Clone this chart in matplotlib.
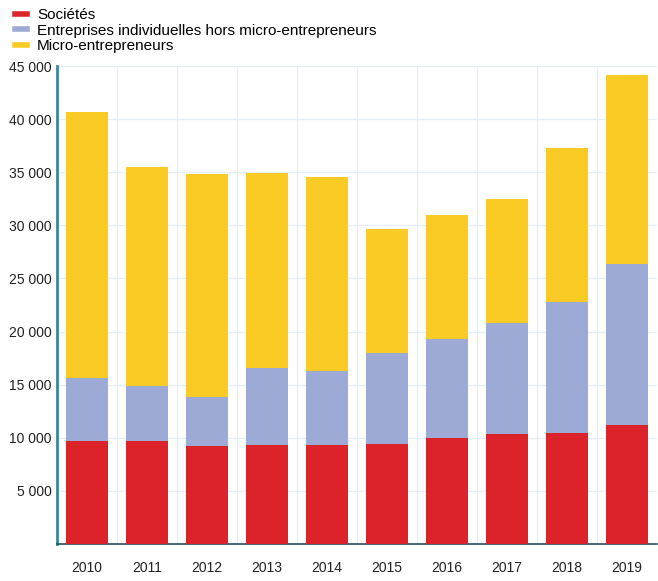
import matplotlib.pyplot as plt
import numpy as np
from matplotlib.lines import Line2D
from matplotlib.ticker import FuncFormatter

plt.rcParams['font.family'] = ['Liberation Sans', 'DejaVu Sans']

# Data
years = ['2010', '2011', '2012', '2013', '2014', '2015', '2016', '2017', '2018', '2019']
societes = [9730, 9730, 9230, 9350, 9320, 9420, 9950, 10360, 10480, 11200]
ei_hors_micro = [5870, 5150, 4640, 7190, 6940, 8540, 9350, 10480, 12280, 15140]
micro = [25050, 20650, 20940, 18360, 18270, 11700, 11680, 11620, 14560, 17790]

labels = ['Sociétés', 'Entreprises individuelles hors micro-entrepreneurs', 'Micro-entrepreneurs']
colors = ['#dc2329', '#9daad6', '#f9cb24']
yticks = [5000, 10000, 15000, 20000, 25000, 30000, 35000, 40000, 45000]

fig = plt.figure(figsize=(6.58, 5.81), dpi=100)
ax = fig.add_axes([57 / 658, 37 / 581, 600 / 658, 478 / 581])

x = np.arange(len(years))
bottom = np.zeros(len(years))
for vals, col in zip([societes, ei_hors_micro, micro], colors):
    ax.bar(x, vals, width=0.7, bottom=bottom, color=col, zorder=3)
    bottom += np.array(vals)

ax.set_xlim(-0.5, len(years) - 0.5)
ax.set_ylim(0, 45000)
ax.set_xticks(x)
ax.set_xticklabels(years)
ax.set_yticks(yticks)
ax.yaxis.set_major_formatter(FuncFormatter(lambda v, p: f'{int(v):,}'.replace(',', ' ')))

# vertical gridlines between categories, horizontal on the ticks
ax.set_xticks(x[:-1] + 0.5, minor=True)
ax.grid(True, which='minor', axis='x', color='#e3eef7', linewidth=0.9, zorder=0)
ax.grid(True, which='major', axis='y', color='#e3eef7', linewidth=0.9, zorder=0)
ax.tick_params(axis='both', which='both', length=0, labelsize=10, colors='#222222')
ax.tick_params(axis='x', pad=12)
ax.tick_params(axis='y', pad=4)

ax.spines['top'].set_visible(False)
ax.spines['right'].set_visible(False)
ax.spines['left'].set_color('#3b8797')
ax.spines['left'].set_linewidth(2)
ax.spines['bottom'].set_color('#24505e')
ax.spines['bottom'].set_linewidth(1.2)

handles = [Line2D([0], [0], color=c, linewidth=4) for c in colors]
fig.legend(handles, labels, loc='upper left', bbox_to_anchor=(15 / 658, 1 - 8 / 581),
           frameon=False, fontsize=11, handlelength=0.8, handletextpad=0.65,
           labelspacing=0.1, borderpad=0, borderaxespad=0)

fig.savefig('out.png', dpi=100)
